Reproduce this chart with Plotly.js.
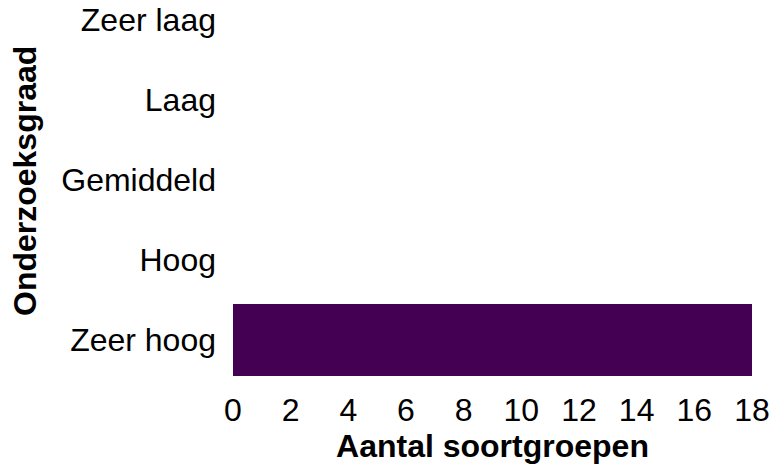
<!DOCTYPE html>
<html><head><meta charset="utf-8">
<script src="https://cdn.plot.ly/plotly-3.0.1.min.js"></script>
<style>html,body{margin:0;padding:0;background:#fff}</style>
</head><body>
<div id="chart" style="width:774px;height:469px"></div>
<script>
const categories = ["Zeer hoog", "Hoog", "Gemiddeld", "Laag", "Zeer laag"];
const counts = [18, 0, 0, 0, 0];
const xTicks = [0, 2, 4, 6, 8, 10, 12, 14, 16, 18];
const xTitle = "Aantal soortgroepen";
const yTitle = "Onderzoeksgraad";

const fam = "Liberation Sans, Arial, sans-serif";

const trace = {
  type: "bar",
  orientation: "h",
  y: categories,
  x: counts,
  marker: {color: "#440154", line: {width: 0}},
  hoverinfo: "x+y"
};

const layout = {
  width: 774, height: 469,
  margin: {l: 233, r: 22, t: 0, b: 79},
  paper_bgcolor: "#fff", plot_bgcolor: "#fff",
  bargap: 0.1,
  showlegend: false,
  font: {family: fam, color: "#000", size: 32},
  xaxis: {
    range: [0, 18],
    tickvals: xTicks,
    ticktext: xTicks.map(String),
    showgrid: false, zeroline: false, showline: false,
    ticks: "", ticklen: 0,
    ticklabelstandoff: -2,
    tickfont: {family: fam, size: 32, color: "#000"},
    title: {text: "<b>" + xTitle + "</b>", font: {family: fam, size: 32, color: "#000"}, standoff: 6}
  },
  yaxis: {
    type: "category",
    categoryorder: "array", categoryarray: categories,
    range: [-0.625, 4.25],
    showgrid: false, zeroline: false, showline: false,
    ticks: "", ticklen: 0,
    ticklabelstandoff: 16,
    tickfont: {family: fam, size: 32, color: "#000"}
  },
  annotations: [{
    text: "<b>" + yTitle + "</b>",
    xref: "paper", yref: "paper",
    x: -233/519 + 25/519, y: (390 - 181) / 390,
    xanchor: "center", yanchor: "middle",
    textangle: -90, showarrow: false,
    font: {family: fam, size: 32, color: "#000"}
  }]
};

Plotly.newPlot("chart", [trace], layout, {displayModeBar: false, staticPlot: true});
</script>
</body></html>
